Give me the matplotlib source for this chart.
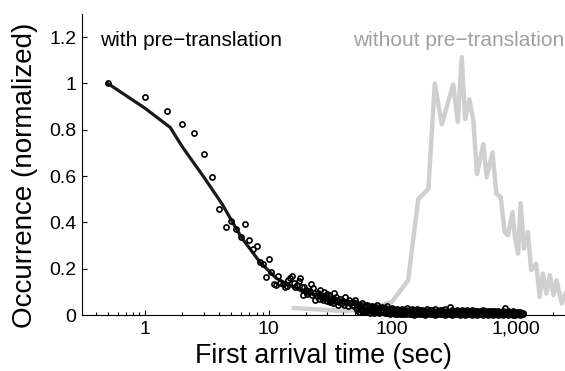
import numpy as np
import matplotlib.pyplot as plt
from matplotlib.ticker import FixedLocator, FixedFormatter, LogLocator, NullFormatter

plt.rcParams['font.family'] = ['Liberation Sans', 'DejaVu Sans']

# ---- data ----
# sparse circles (first arrival histogram, with pre-translation)
circ_t = [0.5, 1.0, 1.5, 2.0, 2.5, 3.0, 3.5, 4.0, 4.5, 5.0, 5.5, 6.0, 6.4, 7.0, 7.5, 8.0, 8.5, 9.0, 9.5, 10,
          10.5, 11, 11.5, 12, 12.5, 13, 13.5, 14, 14.5, 15, 15.5, 16, 16.5, 17, 17.5, 18, 18.5, 19, 19.5, 20,
          20.5, 21, 21.5, 22, 22.5, 23, 23.5, 24, 24.5, 25, 25.5, 26, 26.5, 27, 27.5, 28, 28.5, 29, 29.5, 30,
          30.5, 31, 31.5, 32, 32.5, 33, 33.5, 34, 34.5, 35, 36, 36.5, 37, 38, 39, 40, 41, 42, 43, 44,
          45, 46, 47, 48, 49, 50, 51]
circ_y = [1.0, 0.94, 0.879, 0.824, 0.786, 0.694, 0.594, 0.456, 0.38, 0.406, 0.373, 0.337, 0.394, 0.323, 0.283, 0.297, 0.229, 0.22, 0.165, 0.244,
          0.186, 0.133, 0.13, 0.168, 0.14, 0.135, 0.12, 0.126, 0.15, 0.158, 0.168, 0.14, 0.122, 0.13, 0.146, 0.158, 0.12, 0.086, 0.122, 0.11,
          0.09, 0.10, 0.105, 0.133, 0.085, 0.115, 0.095, 0.067, 0.08, 0.093, 0.07, 0.11, 0.085, 0.072, 0.065, 0.10, 0.075, 0.08, 0.06, 0.09,
          0.07, 0.086, 0.055, 0.06, 0.065, 0.075, 0.05, 0.095, 0.06, 0.079, 0.065, 0.045, 0.057, 0.07, 0.05, 0.06, 0.045, 0.079, 0.055, 0.04,
          0.065, 0.05, 0.045, 0.057, 0.04, 0.067, 0.05]

# dense band of circles near zero (three rows)
band_t = [52, 54, 57, 60, 63, 66, 69, 72, 76, 79, 83, 87, 91, 96, 100,
          105, 110, 115, 121, 126, 132, 139, 145, 152, 160, 167, 175, 184, 193, 202,
          211, 222, 232, 243, 255, 267, 280, 294, 308, 323, 338, 354, 371, 389, 408,
          428, 448, 470, 492, 516, 541, 567, 594, 622, 652, 684, 716, 751, 787, 824,
          864, 906, 949, 995, 1040, 1090, 1140]
band_hi = [0.045, 0.038, 0.05, 0.035, 0.042, 0.03, 0.04, 0.033, 0.045, 0.028, 0.035, 0.03, 0.038, 0.025, 0.032,
           0.022, 0.028, 0.02, 0.025, 0.022, 0.03, 0.02, 0.024, 0.021, 0.026, 0.02, 0.023, 0.019, 0.025, 0.021,
           0.02, 0.024, 0.019, 0.022, 0.02, 0.025, 0.018, 0.033, 0.02, 0.019, 0.022, 0.018, 0.021, 0.019, 0.02,
           0.018, 0.022, 0.017, 0.019, 0.018, 0.02, 0.016, 0.018, 0.017, 0.019, 0.016, 0.018, 0.015, 0.017, 0.029,
           0.016, 0.014, 0.016, 0.013, 0.015, 0.012, 0.01]
band_lo = [0.02, 0.015, 0.018, 0.012, 0.016, 0.01, 0.014, 0.009, 0.012, 0.008, 0.011, 0.007, 0.01, 0.006, 0.008,
           0.004, 0.006, 0.003, 0.005, 0.004, 0.006, 0.003, 0.005, 0.002, 0.004, 0.003, 0.005, 0.002, 0.004, 0.003,
           0.004, 0.002, 0.005, 0.003, 0.004, 0.002, 0.003, 0.004, 0.002, 0.003, 0.004, 0.002, 0.003, 0.002, 0.004,
           0.003, 0.002, 0.003, 0.002, 0.004, 0.002, 0.003, 0.002, 0.003, 0.002, 0.003, 0.002, 0.003, 0.002, 0.003,
           0.002, 0.003, 0.002, 0.002, 0.003, 0.002, 0.003]
band_mid_t = [53, 55.5, 58.5, 61.5, 64.5, 67.5, 70.5, 74, 77.5, 81, 85, 89, 93.5, 98, 102.5,
              107.5, 112.5, 118, 123.5, 129, 135.5, 142, 148.5, 156, 163.5, 171, 179.5, 188.5, 197.5, 206.5,
              216.5, 227, 237.5, 249, 261, 273.5, 287, 301, 315.5, 330.5, 346, 362.5, 380, 398.5, 418,
              438, 459, 481, 504, 528.5, 554, 580.5, 608, 637, 668, 700, 733.5, 769, 805.5, 844,
              885, 927.5, 972, 1017, 1065, 1115]
band_mid = [0.03, 0.026, 0.028, 0.022, 0.025, 0.02, 0.024, 0.018, 0.021, 0.017, 0.02, 0.016, 0.018, 0.014, 0.015,
            0.013, 0.012, 0.014, 0.011, 0.013, 0.012, 0.011, 0.013, 0.012, 0.011, 0.012, 0.01, 0.012, 0.011, 0.012,
            0.011, 0.012, 0.01, 0.012, 0.011, 0.01, 0.012, 0.011, 0.01, 0.011, 0.012, 0.01, 0.011, 0.01, 0.011,
            0.01, 0.011, 0.01, 0.009, 0.01, 0.011, 0.009, 0.01, 0.009, 0.01, 0.009, 0.01, 0.009, 0.008, 0.009,
            0.008, 0.009, 0.008, 0.007, 0.008, 0.007]

# fitted curve (with pre-translation)
fit_t = [0.5, 1.0, 1.6, 2.0, 3.0, 4.2, 6.0, 8.5, 11.6, 19, 30, 55, 100, 300, 1100]
fit_y = [1.0, 0.893, 0.81, 0.727, 0.595, 0.48, 0.337, 0.229, 0.158, 0.10, 0.075, 0.05, 0.03, 0.015, 0.006]

# without pre-translation
gray_t = [16, 43, 80, 100, 135, 163, 197, 222, 253, 313, 341, 367, 391, 423, 456, 487, 518, 549, 584, 651,
          700, 760, 817, 870, 946, 988, 1050, 1100, 1170, 1260, 1340, 1470, 1570, 1670, 1780, 1900, 2030, 2150, 2370, 2530]
gray_y = [0.03, 0.017, 0.04, 0.057, 0.15, 0.50, 0.545, 1.0, 0.824, 0.996, 0.834, 1.114, 0.846, 0.932, 0.839, 0.609, 0.674, 0.738, 0.595, 0.702,
          0.523, 0.509, 0.358, 0.344, 0.444, 0.337, 0.265, 0.483, 0.287, 0.358, 0.194, 0.222, 0.079, 0.179, 0.093, 0.172, 0.086, 0.15, 0.05, 0.093]

x_ticks = [1, 10, 100, 1000]
x_ticklabels = ['1', '10', '100', '1,000']
y_ticks = [0, 0.2, 0.4, 0.6, 0.8, 1.0, 1.2]
y_ticklabels = ['0', '0.2', '0.4', '0.6', '0.8', '1', '1.2']

# ---- figure ----
fig = plt.figure(figsize=(5.65, 3.71), dpi=100)
ax = fig.add_axes([0.1446, 0.1509, 0.8554, 0.8113])

ax.plot(gray_t, gray_y, color='#cfcfcf', linewidth=3.2, zorder=1)
ax.plot(fit_t, fit_y, color='#1a1a1a', linewidth=2.3, zorder=2)

mk = dict(marker='o', linestyle='none', markersize=3.7, markerfacecolor='none',
          markeredgecolor='black', markeredgewidth=1.2, clip_on=False, zorder=3)
ax.plot(circ_t, circ_y, **mk)
ax.plot(band_t, band_hi, **mk)
ax.plot(band_mid_t, band_mid, **mk)
ax.plot(band_t, band_lo, **mk)

ax.text(0.432, 1.187, 'with pre\u2212translation', fontsize=15, color='black', va='center', ha='left')
ax.text(2500, 1.187, 'without pre\u2212translation', fontsize=15, color='#a0a0a0', va='center', ha='right')

ax.set_xscale('log')
ax.set_xlim(0.307, 2517)
ax.set_ylim(0, 1.3)

ax.xaxis.set_major_locator(FixedLocator(x_ticks))
ax.xaxis.set_major_formatter(FixedFormatter(x_ticklabels))
ax.xaxis.set_minor_locator(LogLocator(base=10, subs=np.arange(2, 10)))
ax.xaxis.set_minor_formatter(NullFormatter())
ax.yaxis.set_major_locator(FixedLocator(y_ticks))
ax.yaxis.set_major_formatter(FixedFormatter(y_ticklabels))

ax.tick_params(which='both', direction='in', labelsize=14, width=0.8, pad=4)
ax.tick_params(which='major', length=3.5)
ax.tick_params(which='minor', length=2.5)

for side in ['top', 'right']:
    ax.spines[side].set_visible(False)
for side in ['left', 'bottom']:
    ax.spines[side].set_linewidth(0.8)

ax.set_xlabel('First arrival time (sec)', fontsize=19.3)
ax.set_ylabel('Occurrence (normalized)', fontsize=20)
ax.xaxis.set_label_coords(0.5, -0.093)
ax.yaxis.set_label_coords(-0.09, 0.465)

fig.savefig('out.png', dpi=100)
